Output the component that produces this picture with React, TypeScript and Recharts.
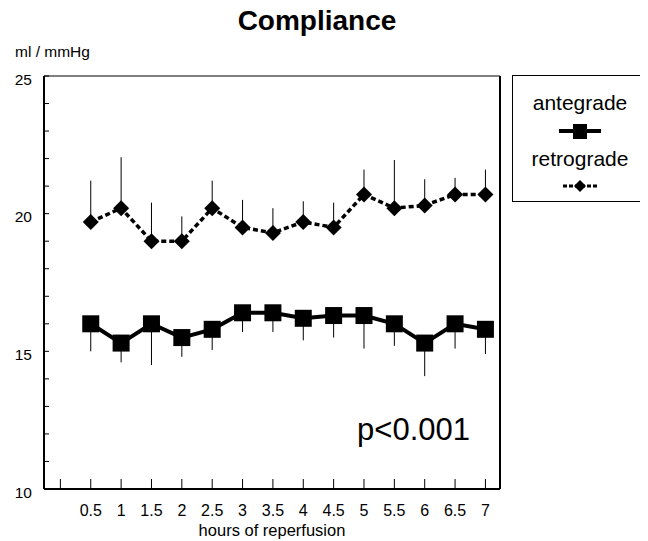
import React from 'react';
import { LineChart, Line, XAxis, YAxis, ErrorBar, ReferenceLine } from 'recharts';

const hours = [0.5, 1, 1.5, 2, 2.5, 3, 3.5, 4, 4.5, 5, 5.5, 6, 6.5, 7];
const antegrade = [16.0, 15.3, 16.0, 15.5, 15.8, 16.4, 16.4, 16.2, 16.3, 16.3, 16.0, 15.3, 16.0, 15.8];
const antegradeSdDown = [1.0, 0.7, 1.5, 0.7, 0.75, 0.7, 0.7, 0.8, 0.8, 1.2, 0.8, 1.2, 0.9, 0.9];
const retrograde = [19.7, 20.2, 19.0, 19.0, 20.2, 19.5, 19.3, 19.7, 19.5, 20.7, 20.2, 20.3, 20.7, 20.7];
const retrogradeSdUp = [1.5, 1.85, 1.4, 0.9, 1.0, 1.0, 0.9, 0.75, 0.9, 0.9, 1.75, 0.95, 0.6, 0.9];

const xTicks = [0, 0.5, 1, 1.5, 2, 2.5, 3, 3.5, 4, 4.5, 5, 5.5, 6, 6.5, 7];
const xDomain = [-0.27, 7.24];
const yTicks = [10, 11, 12, 13, 14, 15, 16, 17, 18, 19, 20, 21, 22, 23, 24, 25];
const yDomain = [10, 25];
const yLabelTicks = [10, 15, 20, 25];

const seriesNames = ['antegrade', 'retrograde'];
const title = 'Compliance';
const unitLabel = 'ml / mmHg';
const xLabel = 'hours of reperfusion';
const pLabel = 'p<0.001';

const data = hours.map((h, i) => ({
  h,
  ant: antegrade[i],
  antErr: [antegradeSdDown[i], 0],
  ret: retrograde[i],
  retErr: [0, retrogradeSdUp[i]],
}));

const FONT = '"Liberation Sans", Arial, sans-serif';

const SquareDot = (props: any) => {
  const { cx, cy, index } = props;
  if (cx == null || cy == null) return null;
  return <rect key={`sq-${index}`} x={cx - 8.5} y={cy - 8.5} width={17} height={17} fill="#000" />;
};

const DiamondDot = (props: any) => {
  const { cx, cy, index } = props;
  if (cx == null || cy == null) return null;
  const r = 8;
  return (
    <polygon
      key={`di-${index}`}
      points={`${cx},${cy - r} ${cx + r},${cy} ${cx},${cy + r} ${cx - r},${cy}`}
      fill="#000"
    />
  );
};

export default function App() {
  return (
    <div style={{ marginLeft: -8, marginTop: -8, position: 'relative', width: 648, height: 541, background: '#fff' }}>
      <LineChart
        width={648}
        height={541}
        data={data}
        margin={{ top: 76, right: 148, bottom: 0, left: 0 }}
      >
        <XAxis
          dataKey="h"
          type="number"
          domain={xDomain}
          ticks={xTicks}
          allowDataOverflow
          height={52}
          tickSize={-10}
          tickMargin={26}
          tickFormatter={(v: number) => (v === 0 ? '' : String(v))}
          axisLine={{ stroke: '#000', strokeWidth: 2 }}
          tickLine={{ stroke: '#000', strokeWidth: 1 }}
          tick={{ fill: '#000', fontSize: 16, fontFamily: FONT }}
          label={{ value: xLabel, position: 'insideBottom', offset: 5, fill: '#000', fontSize: 16.5, fontFamily: FONT }}
        />
        <YAxis
          type="number"
          domain={yDomain}
          ticks={yTicks}
          allowDataOverflow
          width={44}
          tickSize={-5}
          tickMargin={17}
          tickFormatter={(v: number) => (yLabelTicks.includes(v) ? String(v) : '')}
          axisLine={{ stroke: '#000', strokeWidth: 2 }}
          tickLine={{ stroke: '#000', strokeWidth: 1 }}
          tick={{ fill: '#000', fontSize: 15.5, fontFamily: FONT, dy: 3 }}
        />
        <ReferenceLine y={yDomain[1]} stroke="#000" strokeWidth={1} />
        <ReferenceLine x={xDomain[1]} stroke="#000" strokeWidth={2} />
        <Line
          dataKey="ant"
          name={seriesNames[0]}
          stroke="#000"
          strokeWidth={4}
          dot={SquareDot}
          activeDot={false}
          isAnimationActive={false}
        >
          <ErrorBar dataKey="antErr" direction="y" width={0} stroke="#000" strokeWidth={1} />
        </Line>
        <Line
          dataKey="ret"
          name={seriesNames[1]}
          stroke="#000"
          strokeWidth={3.5}
          strokeDasharray="5 3"
          dot={DiamondDot}
          activeDot={false}
          isAnimationActive={false}
        >
          <ErrorBar dataKey="retErr" direction="y" width={0} stroke="#000" strokeWidth={1} />
        </Line>
      </LineChart>
      <svg
        width={648}
        height={541}
        style={{ position: 'absolute', left: 0, top: 0, pointerEvents: 'none' }}
        fontFamily={FONT}
      >
        <text x={317} y={30} textAnchor="middle" fontSize={28} fontWeight="bold" fill="#000">{title}</text>
        <text x={15} y={57} fontSize={15.5} fill="#000">{unitLabel}</text>
        <text x={470} y={440} textAnchor="end" fontSize={31} fill="#000">{pLabel}</text>
        <rect x={512.5} y={75.5} width={134} height={126} fill="#fff" stroke="#000" strokeWidth={1} />
        <text x={580} y={110} textAnchor="middle" fontSize={21} fill="#000">{seriesNames[0]}</text>
        <line x1={559} y1={131} x2={601} y2={131} stroke="#000" strokeWidth={4} />
        <rect x={573} y={124} width={14} height={15} fill="#000" />
        <text x={580} y={166} textAnchor="middle" fontSize={21} fill="#000">{seriesNames[1]}</text>
        <line x1={563} y1={186} x2={597} y2={186} stroke="#000" strokeWidth={3} strokeDasharray="4 2" />
        <polygon points="580,180 586,186 580,192 574,186" fill="#000" />
      </svg>
    </div>
  );
}
